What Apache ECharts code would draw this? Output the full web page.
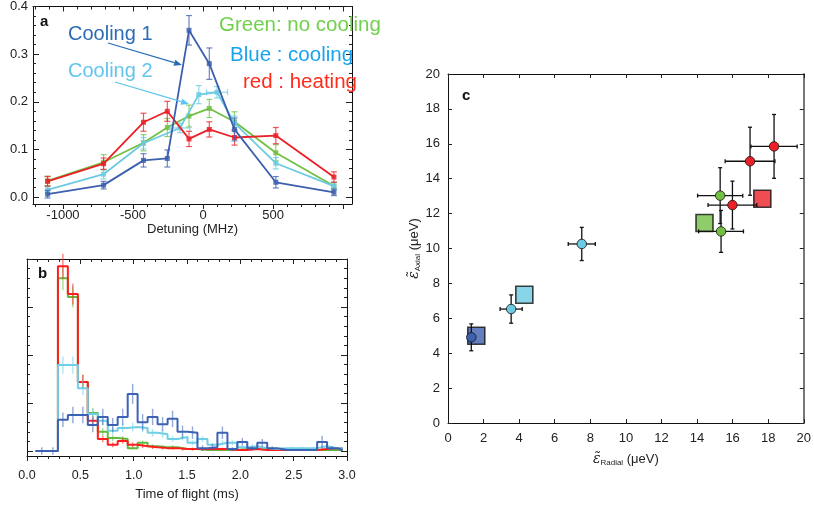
<!DOCTYPE html>
<html><head><meta charset="utf-8">
<script src="https://cdn.jsdelivr.net/npm/echarts@6/dist/echarts.min.js"></script>
<style>html,body{margin:0;padding:0;background:#fff}#c{width:814px;height:508px}</style>
</head><body><div id="c"></div>
<script>
// ---------- Panel a : detuning scan ----------
const detX      = [-1110, -710, -425, -255, -100, 45, 225, 520, 935];
const cool1Y    = [0.006, 0.025, 0.077, 0.081, 0.350, 0.280, 0.142, 0.031, 0.010];
const cool1Err  = [0.008, 0.008, 0.014, 0.018, 0.031, 0.033, 0.024, 0.012, 0.007];
const cool2X    = [-1110, -710, -425, -165, -30, 100, 225, 520, 935];
const cool2Y    = [0.015, 0.048, 0.113, 0.145, 0.215, 0.220, 0.155, 0.071, 0.023];
const cool2Err  = [0.007, 0.010, 0.012, 0.010, 0.019, 0.012, 0.015, 0.012, 0.008];
const cool2XErr = [0, 0, 0, 70, 0, 75, 0, 0, 0];
const noCoolY   = [0.034, 0.073, 0.114, 0.146, 0.170, 0.186, 0.158, 0.093, 0.023];
const noCoolErr = [0.010, 0.016, 0.017, 0.019, 0.023, 0.019, 0.021, 0.017, 0.008];
const heatY     = [0.033, 0.070, 0.157, 0.180, 0.122, 0.142, 0.125, 0.129, 0.042];
const heatErr   = [0.010, 0.012, 0.019, 0.021, 0.016, 0.016, 0.016, 0.017, 0.011];
const aXLabels  = [-1000, -500, 0, 500];
const aYLabels  = [0, 0.1, 0.2, 0.3, 0.4];

// ---------- Panel b : time-of-flight histograms ----------
const tofEdges = [0.080, 0.196, 0.290, 0.383, 0.477, 0.570, 0.664, 0.757, 0.850, 0.944, 1.037,
  1.131, 1.224, 1.318, 1.411, 1.505, 1.598, 1.692, 1.785, 1.879, 1.972, 2.065, 2.159, 2.252,
  2.346, 2.439, 2.533, 2.626, 2.720, 2.813, 2.907, 2.960];
const tofRed   = [0,0, 38.5,32.7,14.4,6.3,2.5,1.3,2.1,1.3,1.0,0.8,0.6,0.6,0.4,0.4,0.4,0.4,0.4,0.2,0.2,0.4,0.2,0.2,0.2,0.2,0.2,0.2,0.4,0.6,0.6];
const tofGreen = [0,0, 36.0,32.1,14.4,7.9,4.0,2.7,2.5,0.6,1.7,1.0,0.8,0.8,0.4,0.4,0.2,0.2,0.2,0.2,0.4,0.4,0.6,0.2,0.2,0.2,0.2,0.2,0.2,0.2,0.2];
const tofCyan  = [0,0, 17.9,17.9,13.1,7.7,6.3,4.2,4.8,5.0,4.8,3.8,3.5,2.5,2.9,1.7,2.5,1.3,1.7,1.7,0.8,1.0,0.6,0.4,0.6,0.6,0.6,0.6,1.0,0.6,0.6];
const tofBlue  = [0,0, 6.5,7.5,7.5,5.4,7.1,5.4,7.1,11.9,6.0,7.1,5.6,6.7,4.0,3.8,0.6,0.8,3.8,0.4,1.9,0.6,1.7,0.6,0.2,0.2,0.2,0.2,1.9,0.6,0.2];
const tofRedErr   = [0,0, 2.6,2.2,1.5,1.0,0.7,0.5,0.6,0.5,0.4,0.4,0.3,0.3,0.3,0.3,0.3,0.3,0.3,0.2,0.2,0.3,0.2,0.2,0.2,0.2,0.2,0.2,0.3,0.3,0.3];
const tofGreenErr = [0,0, 2.5,2.2,1.5,1.1,0.8,0.6,0.6,0.3,0.5,0.4,0.4,0.4,0.3,0.3,0.2,0.2,0.2,0.2,0.3,0.3,0.3,0.2,0.2,0.2,0.2,0.2,0.2,0.2,0.2];
const tofCyanErr  = [0,0, 1.8,1.8,1.5,1.1,1.0,0.8,0.9,0.9,0.9,0.8,0.8,0.6,0.7,0.5,0.6,0.4,0.5,0.5,0.3,0.4,0.3,0.2,0.3,0.3,0.3,0.3,0.4,0.3,0.3];
const tofBlueErr  = [0.8,0.8, 1.5,1.7,1.7,1.5,1.7,1.5,1.7,2.1,1.7,1.7,1.5,1.7,1.3,1.3,0.6,0.6,1.3,0.4,0.8,0.4,0.8,0.4,0.2,0.2,0.2,0.2,1.3,0.4,0.2];
const bXLabels = [0, 0.5, 1.0, 1.5, 2.0, 2.5, 3.0];

// ---------- Panel c : axial vs radial energy ----------
const cBlueCircX = [1.31],  cBlueCircY = [4.91],  cBlueCircXE = [0.10], cBlueCircYE = [0.77];
const cCyanCircX = [3.55, 7.52], cCyanCircY = [6.53, 10.26], cCyanCircXE = [0.62, 0.76], cCyanCircYE = [0.81, 0.95];
const cGreenCircX = [15.30, 15.35], cGreenCircY = [13.03, 10.98], cGreenCircXE = [1.27, 1.26], cGreenCircYE = [1.60, 1.20];
const cRedCircX = [18.33, 16.98, 15.99], cRedCircY = [15.85, 15.00, 12.49], cRedCircXE = [1.30, 1.40, 1.37], cRedCircYE = [1.83, 1.95, 1.37];
const cSquareX = [1.59, 4.29, 14.42, 17.67];
const cSquareY = [5.00, 7.35, 11.46, 12.85];
const cLabels = [0, 2, 4, 6, 8, 10, 12, 14, 16, 18, 20];

// ---------- styling ----------
const FONT = "'Liberation Sans', Arial, Helvetica, sans-serif";
const C_BLUE = '#3c5fae', C_CYAN = '#6ccbe2', C_GREEN = '#72c043', C_RED = '#ec2027';

function range(a, b, s) { const r = []; for (let v = a; v <= b + 1e-9; v += s) r.push(+v.toFixed(6)); return r; }

const xAxes = [], yAxes = [];
function addAxis(arr, grid, pos, min, max, ticks, len, inside, showLine, labels, extra) {
  const ax = {
    type: 'value', gridIndex: grid, position: pos, min: min, max: max,
    axisLine: { show: showLine, onZero: false, lineStyle: { color: '#111', width: 1 } },
    axisTick: { show: true, customValues: ticks, inside: inside, length: len, lineStyle: { color: '#222', width: 1 } },
    axisLabel: { show: false },
    splitLine: { show: false }
  };
  if (labels) {
    ax.axisLabel = Object.assign({ show: true, customValues: labels, color: '#222', fontFamily: FONT, fontSize: 13, formatter: v => String(v) }, (extra && extra.label) || {});
  }
  if (extra && extra.name) Object.assign(ax, extra.name);
  arr.push(ax);
  return arr.length - 1;
}

// Panel a axes
const aX = [-1214, 1064], aY = [-0.0146, 0.4];
const xa = addAxis(xAxes, 0, 'bottom', aX[0], aX[1], [-1000, -500, 0, 500, 1000], 5, false, true, aXLabels, {
  label: { margin: 5 },
  name: { name: 'Detuning (MHz)', nameLocation: 'middle', nameGap: 19, nameTextStyle: { fontFamily: FONT, fontSize: 13, color: '#222' } }
});
addAxis(xAxes, 0, 'bottom', aX[0], aX[1], range(-1200, 1000, 100), 3, false, false, null);
addAxis(xAxes, 0, 'top', aX[0], aX[1], [-1000, -500, 0, 500, 1000], 5, true, true, null);
addAxis(xAxes, 0, 'top', aX[0], aX[1], range(-1200, 1000, 100), 3, true, false, null);
const ya = addAxis(yAxes, 0, 'left', aY[0], aY[1], aYLabels, 6, true, true, aYLabels, { label: { margin: 5, formatter: v => v.toFixed(1) } });
addAxis(yAxes, 0, 'left', aY[0], aY[1], range(0, 0.4, 0.02), 3, true, false, null);
addAxis(yAxes, 0, 'right', aY[0], aY[1], aYLabels, 6, true, true, null);
addAxis(yAxes, 0, 'right', aY[0], aY[1], range(0, 0.4, 0.02), 3, true, false, null);

// Panel b axes
const bX = [0, 3.0], bY = [-1.04, 40];
const xb = addAxis(xAxes, 1, 'bottom', bX[0], bX[1], bXLabels, 5, false, true, bXLabels, {
  label: { margin: 13, fontSize: 12.5, formatter: v => v.toFixed(1) },
  name: { name: 'Time of flight (ms)', nameLocation: 'middle', nameGap: 32, nameTextStyle: { fontFamily: FONT, fontSize: 13, color: '#222' } }
});
addAxis(xAxes, 1, 'bottom', bX[0], bX[1], range(0, 3, 0.1), 3, false, false, null);
addAxis(xAxes, 1, 'top', bX[0], bX[1], bXLabels, 5, true, true, null);
addAxis(xAxes, 1, 'top', bX[0], bX[1], range(0, 3, 0.1), 3, true, false, null);
const yb = addAxis(yAxes, 1, 'left', bY[0], bY[1], [0, 10, 20, 30, 40], 6, true, true, null);
addAxis(yAxes, 1, 'left', bY[0], bY[1], range(0, 40, 2), 3, true, false, null);
addAxis(yAxes, 1, 'right', bY[0], bY[1], [0, 10, 20, 30, 40], 6, true, true, null);
addAxis(yAxes, 1, 'right', bY[0], bY[1], range(0, 40, 2), 3, true, false, null);

// Panel c axes
const richName = { e: { fontFamily: "'DejaVu Serif', serif", fontStyle: 'italic', fontSize: 14, color: '#222' },
                   s: { fontFamily: FONT, fontSize: 8, color: '#222', padding: [7, 0, 0, 0] } };
const xc = addAxis(xAxes, 2, 'bottom', 0, 20, cLabels, 4, true, true, cLabels, {
  label: { margin: 9 },
  name: { name: '{e|ε̃}{s|Radial} (μeV)', nameLocation: 'middle', nameGap: 29,
    nameTextStyle: { fontFamily: FONT, fontSize: 13, color: '#222', rich: richName } }
});
addAxis(xAxes, 2, 'top', 0, 20, cLabels, 4, true, true, null);
const yc = addAxis(yAxes, 2, 'left', 0, 20, cLabels, 4, true, true, cLabels, {
  label: { margin: 8 },
  name: { name: '{e|ε̃}{s|Axial} (μeV)', nameLocation: 'middle', nameGap: 20, nameRotate: 90,
    nameTextStyle: { fontFamily: FONT, fontSize: 13, color: '#222', rich: richName } }
});
addAxis(yAxes, 2, 'right', 0, 20, cLabels, 4, true, true, null);
yAxes[yAxes.length - 1].axisLine.lineStyle = { color: '#777', width: 2 };

// ---------- error bar renderers ----------
function errBars(color, cap, width, opacity) {
  return function (params, api) {
    const x = api.value(0), y = api.value(1), lo = api.value(2), hi = api.value(3), xlo = api.value(4), xhi = api.value(5);
    const st = { stroke: color, lineWidth: width, opacity: opacity };
    const ch = [];
    const p1 = api.coord([x, lo]), p2 = api.coord([x, hi]);
    if (hi > lo) {
      ch.push({ type: 'line', shape: { x1: p1[0], y1: p1[1], x2: p2[0], y2: p2[1] }, style: st });
      if (cap > 0) {
        ch.push({ type: 'line', shape: { x1: p1[0] - cap, y1: p1[1], x2: p1[0] + cap, y2: p1[1] }, style: st });
        ch.push({ type: 'line', shape: { x1: p2[0] - cap, y1: p2[1], x2: p2[0] + cap, y2: p2[1] }, style: st });
      }
    }
    if (xhi > xlo) {
      const q1 = api.coord([xlo, y]), q2 = api.coord([xhi, y]);
      ch.push({ type: 'line', shape: { x1: q1[0], y1: q1[1], x2: q2[0], y2: q2[1] }, style: st });
      if (cap > 0) {
        ch.push({ type: 'line', shape: { x1: q1[0], y1: q1[1] - cap, x2: q1[0], y2: q1[1] + cap }, style: st });
        ch.push({ type: 'line', shape: { x1: q2[0], y1: q2[1] - cap, x2: q2[0], y2: q2[1] + cap }, style: st });
      }
    }
    return { type: 'group', children: ch };
  };
}

const series = [];
// Panel a series
function aSeries(xs, ys, es, xes, color, z) {
  series.push({
    type: 'custom', xAxisIndex: xa, yAxisIndex: ya, z: z, clip: false,
    renderItem: errBars(color, 3, 1.2, 0.75),
    data: xs.map((x, i) => [x, ys[i], ys[i] - es[i], ys[i] + es[i], x - (xes ? xes[i] : 0), x + (xes ? xes[i] : 0)])
  });
  series.push({
    type: 'line', xAxisIndex: xa, yAxisIndex: ya, z: z + 1,
    data: xs.map((x, i) => [x, ys[i]]),
    symbol: 'rect', symbolSize: 5, showSymbol: true,
    itemStyle: { color: color, opacity: 0.85 }, lineStyle: { color: color, width: 1.8 }
  });
}
aSeries(detX, noCoolY, noCoolErr, null, C_GREEN, 2);
aSeries(cool2X, cool2Y, cool2Err, cool2XErr, C_CYAN, 4);
aSeries(detX, heatY, heatErr, null, C_RED, 6);
aSeries(detX, cool1Y, cool1Err, null, C_BLUE, 8);

// Panel b series
function bSeries(vals, errs, color, z) {
  const n = vals.length;
  series.push({
    type: 'custom', xAxisIndex: xb, yAxisIndex: yb, z: z,
    renderItem: errBars(color, 0, 1.4, 0.55),
    data: vals.map((v, i) => { const c = (tofEdges[i] + tofEdges[i + 1]) / 2; return [c, v, v - errs[i], v + errs[i], c, c]; })
  });
  series.push({
    type: 'line', xAxisIndex: xb, yAxisIndex: yb, z: z + 1, step: 'end', symbol: 'none',
    data: tofEdges.map((e, i) => [e, vals[Math.min(i, n - 1)]]),
    lineStyle: { color: color, width: 2 }
  });
}
bSeries(tofGreen, tofGreenErr, '#5fbb3a', 2);
bSeries(tofRed, tofRedErr, '#ff1e1e', 4);
bSeries(tofCyan, tofCyanErr, '#6fcfe4', 6);
bSeries(tofBlue, tofBlueErr, '#3b62b4', 8);

// Panel c series
series.push({
  type: 'scatter', xAxisIndex: xc, yAxisIndex: yc, z: 2, symbol: 'rect', symbolSize: 17,
  data: cSquareX.map((x, i) => ({ value: [x, cSquareY[i]], itemStyle: { color: [C_BLUE, C_CYAN, C_GREEN, C_RED][i] } })),
  itemStyle: { borderColor: '#111', borderWidth: 1.6 }
});
function cSeries(xs, ys, xe, ye, color) {
  series.push({
    type: 'custom', xAxisIndex: xc, yAxisIndex: yc, z: 3,
    renderItem: errBars('#111', 2, 1.3, 1),
    data: xs.map((x, i) => [x, ys[i], ys[i] - ye[i], ys[i] + ye[i], x - xe[i], x + xe[i]])
  });
  series.push({
    type: 'scatter', xAxisIndex: xc, yAxisIndex: yc, z: 5, symbol: 'circle', symbolSize: 9.5,
    data: xs.map((x, i) => [x, ys[i]]),
    itemStyle: { color: color, borderColor: '#111', borderWidth: 0.8, opacity: 1 }
  });
}
cSeries(cBlueCircX, cBlueCircY, cBlueCircXE, cBlueCircYE, C_BLUE);
cSeries(cCyanCircX, cCyanCircY, cCyanCircXE, cCyanCircYE, C_CYAN);
cSeries(cGreenCircX, cGreenCircY, cGreenCircXE, cGreenCircYE, C_GREEN);
cSeries(cRedCircX, cRedCircY, cRedCircXE, cRedCircYE, C_RED);

// ---------- annotations ----------
function arrow(x1, y1, x2, y2, color) {
  const dx = x2 - x1, dy = y2 - y1, L = Math.hypot(dx, dy), ux = dx / L, uy = dy / L;
  const hl = 8, hw = 3.2;
  const bx = x2 - ux * hl, by = y2 - uy * hl;
  return [
    { type: 'line', shape: { x1: x1, y1: y1, x2: bx, y2: by }, style: { stroke: color, lineWidth: 1.3 }, z: 20 },
    { type: 'polygon', shape: { points: [[x2, y2], [bx - uy * hw, by + ux * hw], [bx + uy * hw, by - ux * hw]] }, style: { fill: color }, z: 20 }
  ];
}
function txt(x, y, s, color, size, bold) {
  return { type: 'text', x: x, y: y, z: 20, style: { text: s, fill: color, font: (bold ? 'bold ' : '') + size + 'px ' + FONT, textVerticalAlign: 'middle', verticalAlign: 'middle', textAlign: 'left', align: 'left' } };
}
const graphics = [
  txt(40, 22, 'a', '#111', 15, true),
  txt(38, 274, 'b', '#111', 15, true),
  txt(462, 96, 'c', '#111', 15, true),
  txt(68, 34, 'Cooling 1', '#2a6db5', 20),
  txt(68, 71, 'Cooling 2', '#62c5ee', 20),
  txt(219, 25, 'Green: no cooling', '#6fd04b', 20.5),
  txt(230, 55, 'Blue : cooling', '#19a3ee', 20.5),
  txt(243, 82, 'red : heating', '#ff2b1b', 20.5)
].concat(arrow(108, 43, 182, 65, '#2a6db5')).concat(arrow(115, 82, 189, 104, '#5fc3ef'));

const chart = echarts.init(document.getElementById('c'), null, { renderer: 'canvas', width: 814, height: 508 });
chart.setOption({
  animation: false,
  backgroundColor: '#fff',
  textStyle: { fontFamily: FONT },
  grid: [
    { left: 33, top: 6, width: 319, height: 198 },
    { left: 27, top: 259, width: 320, height: 197 },
    { left: 448, top: 74, width: 358, height: 349 }
  ],
  xAxis: xAxes,
  yAxis: yAxes,
  series: series,
  graphic: graphics
});
</script></body></html>
